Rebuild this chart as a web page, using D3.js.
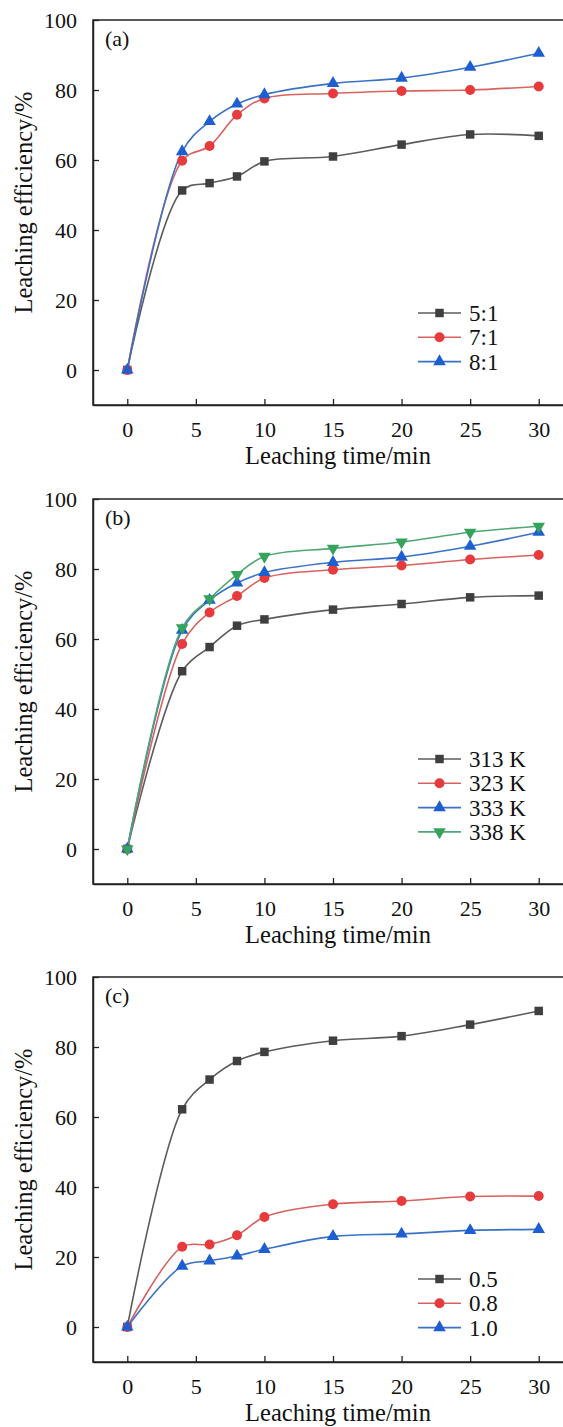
<!DOCTYPE html>
<html>
<head>
<meta charset="utf-8">
<script src="https://cdn.jsdelivr.net/npm/d3@7"></script>
<style>
  body { margin: 0; background: #fff; }
  svg text { font-family: "Liberation Serif", "Times New Roman", serif; fill: #111; }
</style>
</head>
<body>
<svg id="chart" width="563" height="1427"></svg>
<script>
// leaching time (min)
var times = [0, 4, 6, 8, 10, 15, 20, 25, 30];
var xTicks = [0, 5, 10, 15, 20, 25, 30];
var yTicks = [0, 20, 40, 60, 80, 100];

// (a) liquid-solid ratio
var ratioNames = ["5:1", "7:1", "8:1"];
var ratio51 = [0, 51.3, 53.4, 55.3, 59.6, 61.0, 64.4, 67.3, 66.9];
var ratio71 = [0, 59.8, 64.0, 72.9, 77.6, 79.0, 79.7, 80.0, 81.0];
var ratio81 = [0, 62.4, 71.0, 76.0, 78.7, 81.9, 83.4, 86.5, 90.5];

// (b) temperature
var tempNames = ["313 K", "323 K", "333 K", "338 K"];
var temp313 = [0, 50.8, 57.7, 63.8, 65.6, 68.4, 70.0, 71.9, 72.4];
var temp323 = [0, 58.6, 67.6, 72.3, 77.4, 79.8, 81.0, 82.7, 84.0];
var temp333 = [0, 62.5, 71.1, 76.0, 79.0, 81.9, 83.4, 86.5, 90.5];
var temp338 = [0, 63.2, 71.5, 78.4, 83.6, 85.9, 87.7, 90.5, 92.2];

// (c) third factor
var concNames = ["0.5", "0.8", "1.0"];
var conc05 = [0, 62.2, 70.7, 76.0, 78.6, 81.8, 83.1, 86.4, 90.3];
var conc08 = [0, 22.9, 23.6, 26.2, 31.4, 35.1, 36.0, 37.3, 37.4];
var conc10 = [0, 17.4, 18.9, 20.3, 22.2, 25.9, 26.6, 27.6, 27.9];

var styles = [
  { line: "#5c5c5c", mark: "#3f3f3f", shape: d3.symbolSquare, size: 72, rot: 0 },
  { line: "#d8625f", mark: "#e63a3c", shape: d3.symbolCircle, size: 78, rot: 0 },
  { line: "#3a72c6", mark: "#1d5fd0", shape: d3.symbolTriangle, size: 68, rot: 0 },
  { line: "#4fa873", mark: "#36a35c", shape: d3.symbolTriangle, size: 68, rot: 180 }
];

var panels = [
  { tag: "(a)", top: 20, names: ratioNames, series: [ratio51, ratio71, ratio81], legTop: 293 },
  { tag: "(b)", top: 499, names: tempNames, series: [temp313, temp323, temp333, temp338], legTop: 260 },
  { tag: "(c)", top: 977, names: concNames, series: [conc05, conc08, conc10], legTop: 302 }
];

var left = 93, w = 480, h = 385;

var x = d3.scaleLinear().domain([-2.5, 32.5]).range([0, w]);
var y = d3.scaleLinear().domain([-10, 100]).range([h, 0]);

var svg = d3.select("#chart");

// scale a text's font so it spans the given width
function fitText(sel, target) {
  var len = sel.node().getComputedTextLength();
  var fs = +sel.attr("font-size");
  sel.attr("font-size", (fs * target / len).toFixed(2));
}

panels.forEach(function(p) {
  var g = svg.append("g").attr("transform", "translate(" + left + "," + p.top + ")");

  // series lines
  var line = d3.line()
    .x(function(d) { return x(d[0]); })
    .y(function(d) { return y(d[1]); })
    .curve(d3.curveCatmullRom.alpha(0.5));

  p.series.forEach(function(vals, i) {
    var st = styles[i];
    var pts = times.map(function(t, k) { return [t, vals[k]]; });
    g.append("path")
      .datum(pts)
      .attr("d", line)
      .attr("fill", "none")
      .attr("stroke", st.line)
      .attr("stroke-width", 1.6);
  });

  p.series.forEach(function(vals, i) {
    var st = styles[i];
    g.selectAll(null)
      .data(times.map(function(t, k) { return [t, vals[k]]; }))
      .enter()
      .append("path")
      .attr("d", d3.symbol().type(st.shape).size(st.size))
      .attr("transform", function(d) {
        return "translate(" + x(d[0]) + "," + y(d[1]) + ") rotate(" + st.rot + ")";
      })
      .attr("fill", st.mark);
  });

  // frame
  g.append("rect")
    .attr("width", w).attr("height", h)
    .attr("fill", "none").attr("stroke", "#222").attr("stroke-width", 1.5);

  // axes
  var xAxis = g.append("g")
    .attr("transform", "translate(0," + h + ")")
    .call(d3.axisBottom(x).tickValues(xTicks).tickSizeInner(-6).tickSizeOuter(0).tickPadding(12));
  var yAxis = g.append("g")
    .call(d3.axisLeft(y).tickValues(yTicks).tickSizeInner(-6).tickSizeOuter(0).tickPadding(16));

  [xAxis, yAxis].forEach(function(a) {
    a.select(".domain").attr("stroke", "#222").attr("stroke-width", 1.5);
    a.selectAll(".tick line").attr("stroke", "#222").attr("stroke-width", 1.3);
    a.selectAll(".tick text")
      .attr("font-family", "Liberation Serif, serif")
      .attr("font-size", 22)
      .attr("fill", "#111");
  });
  xAxis.selectAll(".tick text").attr("dy", "0.9em");

  // titles
  var xt = g.append("text")
    .attr("x", 245).attr("y", h + 59)
    .attr("text-anchor", "middle")
    .attr("font-size", 22)
    .text("Leaching time/min");
  fitText(xt, 186);

  var yt = g.append("text")
    .attr("transform", "translate(-61," + (h / 2 - 10) + ") rotate(-90)")
    .attr("text-anchor", "middle")
    .attr("font-size", 22)
    .text("Leaching efficiency/%");
  fitText(yt, 222);

  g.append("text")
    .attr("x", 12).attr("y", 26)
    .attr("font-size", 22)
    .text(p.tag);

  // legend
  var leg = g.append("g").attr("transform", "translate(325," + p.legTop + ")");
  p.names.forEach(function(name, i) {
    var st = styles[i];
    var row = leg.append("g").attr("transform", "translate(0," + (i * 24.3) + ")");
    row.append("line")
      .attr("x1", 0).attr("x2", 43)
      .attr("stroke", st.line).attr("stroke-width", 1.6);
    row.append("path")
      .attr("d", d3.symbol().type(st.shape).size(st.size))
      .attr("transform", "translate(21.5,0) rotate(" + st.rot + ")")
      .attr("fill", st.mark);
    row.append("text")
      .attr("x", 51).attr("y", 0).attr("dy", "0.35em")
      .attr("font-size", 23)
      .text(name);
  });
});
</script>
</body>
</html>
